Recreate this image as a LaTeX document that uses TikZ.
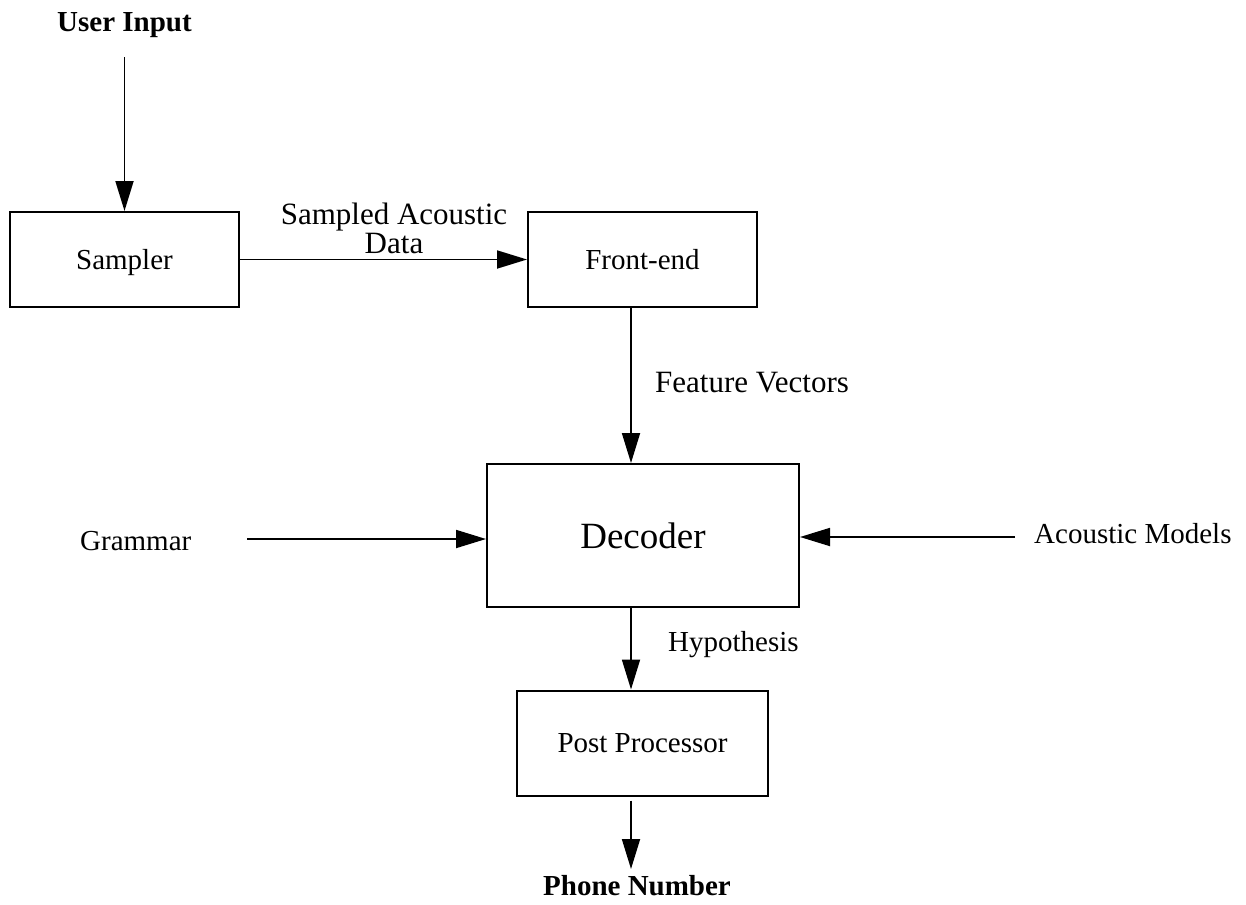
\documentclass[tikz,border=0pt]{standalone}
\usepackage{fontspec}
\setmainfont{Liberation Serif}
\usetikzlibrary{arrows.meta}
\begin{document}
\begin{tikzpicture}[x=1pt,y=-1pt,
  box/.style={draw, line width=2pt, inner sep=0pt, text height=19pt, text depth=0pt, font=\fontsize{29}{34}\selectfont},
  arr/.style={line width=1.8pt, -{Triangle[length=30pt,width=18pt]}},
  lbl/.style={inner sep=0pt, font=\fontsize{29}{34}\selectfont},
  biglbl/.style={inner sep=0pt, font=\fontsize{31}{29}\selectfont},
  boldlbl/.style={inner sep=0pt, font=\fontsize{29}{34}\selectfont\bfseries},
  ]
\useasboundingbox (0,0) rectangle (1246,904);

% boxes
\node[box, minimum width=229pt, minimum height=95pt] (sampler) at (124.5,259.5) {Sampler};
\node[box, minimum width=229pt, minimum height=95pt] (frontend) at (642.5,259.5) {Front-end};
\node[box, minimum width=312pt, minimum height=143pt, text height=25pt, font=\fontsize{37}{42}\selectfont] (decoder) at (643,535.5) {Decoder};
\node[box, minimum width=251pt, minimum height=105pt] (post) at (642.5,743) {Post Processor};

% texts
\node[boldlbl, anchor=base] (uin) at (124.5,32) {User Input};
\node[boldlbl, anchor=base] (phone) at (637,895) {Phone Number};
\node[lbl, anchor=base west] (grammar) at (80,550) {Grammar};
\node[lbl, anchor=base west] (acoustic) at (1034,543) {Acoustic Models};
\node[biglbl, anchor=south, align=center] (sad) at (394,254) {Sampled Acoustic\\Data};
\node[biglbl, anchor=base west] (fv) at (655,392) {Feature Vectors};
\node[lbl, anchor=base west] (hyp) at (668,651) {Hypothesis};

% helper coordinates
\coordinate (vx) at (631,0);
\coordinate (gs) at (247,539);
\coordinate (as) at (1015,537);
\coordinate (ptip) at (631,869);

% connectors
\draw[arr, shorten <=19pt] (uin.south -| sampler.north) -- (sampler.north);
\draw[arr] (sampler.east) -- (frontend.west);
\draw[arr] (frontend.south -| vx) -- (decoder.north -| vx);
\draw[arr] (gs) -- (gs -| decoder.west);
\draw[arr] (as) -- (as -| decoder.east);
\draw[arr] (decoder.south -| vx) -- (post.north -| vx);
\draw[arr, shorten <=4pt] (post.south -| vx) -- (ptip);
\end{tikzpicture}
\end{document}
